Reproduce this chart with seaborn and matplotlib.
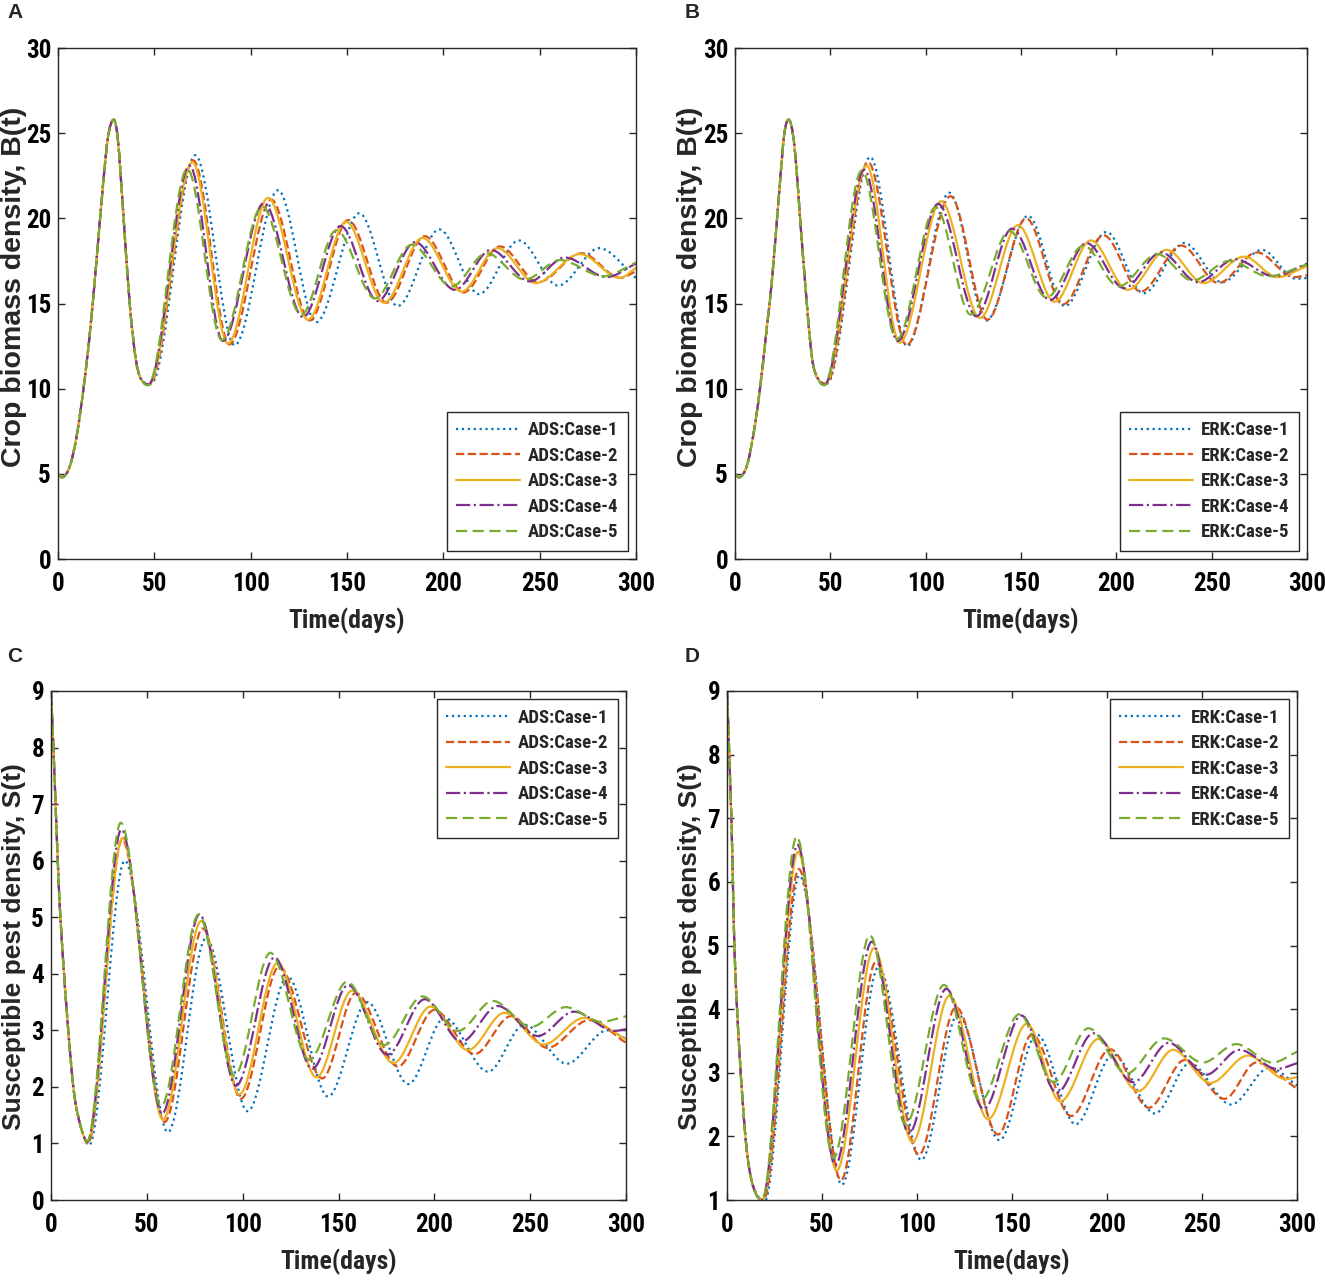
import numpy as np
import matplotlib
matplotlib.use('Agg')
import matplotlib.pyplot as plt
import seaborn as sns
from matplotlib import font_manager as fm
from matplotlib.path import Path
from matplotlib.patches import PathPatch
from matplotlib.lines import Line2D

# ---- values ----
days_ticks = [0, 50, 100, 150, 200, 250, 300]
crop_ticks = [0, 5, 10, 15, 20, 25, 30]
pest_ticks_c = [0, 1, 2, 3, 4, 5, 6, 7, 8, 9]
pest_ticks_d = [1, 2, 3, 4, 5, 6, 7, 8, 9]

case_names = ['Case-1', 'Case-2', 'Case-3', 'Case-4', 'Case-5']

# panel A (ADS) crop biomass - common start, then each case (turning points)
a_rise_t = [0, 2, 6, 9.5, 13, 16.4, 19.9, 23.4, 26, 28.9, 31.1, 33.7, 37.2, 40.7, 44.1]
a_rise_v = [5.0, 4.8, 5.4, 7.1, 9.8, 13.1, 17.4, 22.0, 24.8, 25.8, 24.6, 20.6, 15.0, 11.5, 10.4]
a1_t = [48.4, 71.3, 91.7, 114.2, 134, 156.4, 176.3, 197.9, 218.5, 239.2, 259.6, 280.9, 300]
a1_v = [10.3, 23.7, 12.55, 21.65, 13.9, 20.3, 14.85, 19.35, 15.55, 18.7, 16.05, 18.25, 16.5]
a2_t = [47.6, 70.2, 89, 110.7, 130.6, 150.6, 170.5, 190.4, 210.5, 229.4, 249.2, 271.8, 292, 300]
a2_v = [10.25, 23.4, 12.6, 21.1, 14.0, 19.9, 15.05, 18.95, 15.65, 18.35, 16.25, 17.95, 16.5, 16.9]
a3_t = [47.2, 69.7, 88.2, 109, 129.8, 149.5, 169.2, 189.2, 209.5, 228, 248, 270.9, 291.6, 300]
a3_v = [10.25, 23.3, 12.65, 21.2, 14.05, 19.8, 15.05, 18.85, 15.7, 18.25, 16.2, 17.9, 16.5, 17.1]
a4_t = [47.0, 68.3, 85.6, 106.9, 127.2, 146.7, 165.9, 185.3, 206, 224.7, 244.9, 263.1, 284.7, 300]
a4_v = [10.25, 23.1, 12.8, 20.9, 14.2, 19.55, 15.15, 18.6, 15.8, 18.15, 16.3, 17.7, 16.55, 17.35]
a5_t = [46.8, 67.1, 85.1, 105.9, 126.3, 144.5, 164.5, 183.6, 204.3, 222.4, 242.4, 260.5, 283, 300]
a5_v = [10.2, 22.9, 12.85, 20.7, 14.35, 19.3, 15.3, 18.45, 16.0, 17.95, 16.4, 17.55, 16.6, 17.4]

# panel B (ERK) crop biomass
b_rise_t = [0, 2, 6, 9.5, 13, 16.4, 19.5, 23, 25.8, 28.1, 31.2, 35.5, 40.3, 44]
b_rise_v = [5.0, 4.8, 5.4, 7.2, 9.9, 13.3, 16.5, 21.3, 24.9, 25.8, 24.2, 18.0, 11.9, 10.5]
b1_t = [48.2, 70.9, 90.3, 112.4, 131.8, 153.7, 173, 194.8, 214.3, 235.7, 255.4, 276.4, 294.2, 300]
b1_v = [10.3, 23.6, 12.5, 21.5, 14.0, 20.15, 14.85, 19.2, 15.6, 18.55, 16.25, 18.15, 16.45, 16.5]
b2_t = [48.0, 69.8, 90.0, 113, 132.4, 152.7, 172, 193.4, 212.8, 234.1, 253.5, 273.8, 293.2, 300]
b2_v = [10.3, 23.3, 12.55, 21.3, 14.05, 20.0, 14.95, 19.0, 15.7, 18.4, 16.2, 18.0, 16.55, 16.65]
b3_t = [47.2, 69, 86.4, 108.1, 128.5, 148.4, 167.6, 186.6, 206, 226.4, 245.7, 267, 284.5, 300]
b3_v = [10.25, 23.1, 12.7, 21.0, 14.15, 19.6, 15.1, 18.7, 15.8, 18.15, 16.2, 17.75, 16.55, 17.2]
b4_t = [47.0, 67.8, 85.3, 106.6, 126.6, 145.3, 165.3, 184.3, 204.1, 223.4, 242.8, 262.2, 282.6, 300]
b4_v = [10.25, 22.85, 12.8, 20.85, 14.25, 19.4, 15.2, 18.55, 15.9, 18.0, 16.25, 17.6, 16.6, 17.35]
b5_t = [46.8, 66.5, 84.9, 105.2, 123.6, 144, 163.4, 182.8, 201.2, 221.5, 239.9, 259.3, 279.7, 300]
b5_v = [10.2, 22.8, 12.9, 20.65, 14.35, 19.25, 15.35, 18.4, 16.0, 17.9, 16.35, 17.5, 16.6, 17.3]

# panel C (ADS) susceptible pest
c_fall_t = [0, 1.5, 4, 6, 9, 12, 15.5]
c_fall_v = [9.0, 7.8, 5.6, 4.4, 3.0, 1.9, 1.3]
c1_t = [19.9, 38.5, 61, 80.9, 102.6, 123.4, 144.5, 165, 186.4, 205.4, 228, 247, 269.1, 290.2, 300]
c1_v = [0.97, 6.0, 1.2, 4.63, 1.57, 3.95, 1.83, 3.5, 2.05, 3.22, 2.27, 3.1, 2.41, 3.0, 2.85]
c2_t = [19.3, 37.1, 59.3, 79.2, 99.1, 119.1, 141.5, 159, 181, 200, 221, 240, 259, 280.7, 300]
c2_v = [1.0, 6.37, 1.38, 4.8, 1.79, 4.13, 2.15, 3.66, 2.36, 3.36, 2.58, 3.25, 2.69, 3.18, 2.78]
c3_t = [19.1, 37.3, 58.4, 78.3, 98.3, 118.2, 138.5, 157, 178.6, 198, 217.5, 236.6, 257, 278.1, 300]
c3_v = [1.02, 6.4, 1.42, 4.93, 1.87, 4.19, 2.17, 3.7, 2.42, 3.42, 2.65, 3.31, 2.75, 3.22, 2.84]
c4_t = [19.0, 36.7, 58, 77.5, 96.5, 116.6, 136.3, 155, 175.5, 195, 214.1, 233.1, 253.9, 272.9, 294, 300]
c4_v = [1.03, 6.55, 1.53, 5.05, 2.02, 4.29, 2.32, 3.8, 2.57, 3.55, 2.8, 3.43, 2.9, 3.33, 2.99, 3.02]
c5_t = [18.9, 36.4, 57.5, 77.1, 95.7, 114.4, 134.7, 154.5, 173.8, 193.8, 212.4, 230.5, 250.4, 268.6, 287, 300]
c5_v = [1.04, 6.67, 1.66, 5.05, 2.2, 4.37, 2.48, 3.86, 2.74, 3.6, 2.99, 3.52, 3.06, 3.41, 3.15, 3.25]

# panel D (ERK) susceptible pest
d_fall_t = [0, 2.3, 4, 6.6, 10.1, 13.6]
d_fall_v = [9.0, 7.0, 4.9, 3.3, 1.87, 1.23]
d1_t = [19.8, 38.1, 60.5, 79.7, 102.3, 121.5, 143.4, 163.1, 183.5, 203.3, 225.2, 243.5, 265.3, 285.5, 300]
d1_v = [0.98, 6.1, 1.24, 4.66, 1.63, 3.92, 1.94, 3.6, 2.19, 3.29, 2.36, 3.15, 2.5, 3.08, 2.8]
d2_t = [19.3, 37.8, 60, 78.3, 101, 120.5, 142.7, 160.5, 181.1, 201.6, 222, 240.9, 261.9, 278.5, 300]
d2_v = [1.0, 6.2, 1.31, 4.74, 1.71, 4.03, 2.03, 3.6, 2.32, 3.37, 2.45, 3.2, 2.59, 3.16, 2.75]
d3_t = [18.6, 37.4, 57.7, 77.4, 97.6, 117.1, 137.4, 157.8, 175.4, 195.4, 216.4, 234.8, 254.5, 274.1, 294, 300]
d3_v = [1.0, 6.47, 1.46, 4.96, 1.91, 4.21, 2.27, 3.77, 2.55, 3.53, 2.71, 3.36, 2.84, 3.27, 2.9, 2.93]
d4_t = [18.5, 37.1, 57, 76.2, 95.8, 115.4, 135.1, 154.9, 173.6, 192.8, 213.8, 232.5, 252.2, 269.7, 289.5, 300]
d4_v = [1.0, 6.58, 1.55, 5.06, 2.05, 4.32, 2.43, 3.9, 2.69, 3.62, 2.85, 3.47, 2.97, 3.36, 3.06, 3.15]
d5_t = [18.4, 36.7, 56, 75.2, 94, 114.2, 133.4, 153.9, 171.8, 190.2, 210.3, 230, 250.5, 268, 287, 300]
d5_v = [1.0, 6.71, 1.66, 5.16, 2.19, 4.38, 2.56, 3.92, 2.85, 3.7, 2.99, 3.54, 3.16, 3.45, 3.16, 3.33]

# ---- styling ----
colors = sns.color_palette(['#0072BD', '#D95319', '#EDB120', '#7E2F8E', '#77AC30'])
styles = [':', '--', '-', '-.', (0, (5, 2.5))]

sns.set_style('ticks')

avail = {f.name for f in fm.fontManager.ttflist}


def pick(*names):
    for n in names:
        if n in avail:
            return n
    return 'DejaVu Sans'


narrow = pick('Liberation Sans Narrow', 'DejaVu Sans Condensed', 'Roboto Condensed', 'Liberation Sans')
wide = pick('Liberation Sans', 'Arial', 'DejaVu Sans')
plt.rcParams['font.family'] = narrow
plt.rcParams['font.weight'] = 'bold'

W, H = 1325, 1284
fig = plt.figure(figsize=(W / 100, H / 100), dpi=100)


def make_axes(left, right, top, bottom):
    return fig.add_axes([left / W, 1 - bottom / H, (right - left) / W, (bottom - top) / H])


def curve_path(t, v):
    # smooth connector through the read turning points (monotone cubic segments)
    t = np.asarray(t, float)
    v = np.asarray(v, float)
    n = len(t)
    d = np.diff(v) / np.diff(t)
    m = np.zeros(n)
    m[0], m[-1] = d[0], d[-1]
    for i in range(1, n - 1):
        if d[i - 1] * d[i] > 0:
            m[i] = (v[i + 1] - v[i - 1]) / (t[i + 1] - t[i - 1])
    for k in range(n - 1):
        if d[k] == 0:
            m[k] = m[k + 1] = 0
            continue
        a, b = m[k] / d[k], m[k + 1] / d[k]
        s = a * a + b * b
        if s > 9:
            tau = 3 / np.sqrt(s)
            m[k], m[k + 1] = tau * a * d[k], tau * b * d[k]
    verts = [(t[0], v[0])]
    codes = [Path.MOVETO]
    for k in range(n - 1):
        h = t[k + 1] - t[k]
        verts += [(t[k] + h / 3, v[k] + m[k] * h / 3),
                  (t[k + 1] - h / 3, v[k + 1] - m[k + 1] * h / 3),
                  (t[k + 1], v[k + 1])]
        codes += [Path.CURVE4] * 3
    return Path(verts, codes)


panels = [
    dict(box=(58, 636, 48, 559), start=(a_rise_t, a_rise_v),
         series=[(a1_t, a1_v), (a2_t, a2_v), (a3_t, a3_v), (a4_t, a4_v), (a5_t, a5_v)],
         method='ADS', ylim=(0, 30), yticks=crop_ticks, ylabel='Crop biomass density, B(t)',
         ysize=20.5, ylab=(27, 287), xlab_y=621, loc='lower right', letter='A', lpos=(7, 13)),
    dict(box=(735, 1307, 48, 559), start=(b_rise_t, b_rise_v),
         series=[(b1_t, b1_v), (b2_t, b2_v), (b3_t, b3_v), (b4_t, b4_v), (b5_t, b5_v)],
         method='ERK', ylim=(0, 30), yticks=crop_ticks, ylabel='Crop biomass density, B(t)',
         ysize=20.5, ylab=(703, 287), xlab_y=621, loc='lower right', letter='B', lpos=(685, 13)),
    dict(box=(51, 626, 691, 1200), start=(c_fall_t, c_fall_v),
         series=[(c1_t, c1_v), (c2_t, c2_v), (c3_t, c3_v), (c4_t, c4_v), (c5_t, c5_v)],
         method='ADS', ylim=(0, 9), yticks=pest_ticks_c, ylabel='Susceptible pest density, S(t)',
         ysize=19, ylab=(26, 947), xlab_y=1262, loc='upper right', letter='C', lpos=(7, 657)),
    dict(box=(727, 1297, 691, 1200), start=(d_fall_t, d_fall_v),
         series=[(d1_t, d1_v), (d2_t, d2_v), (d3_t, d3_v), (d4_t, d4_v), (d5_t, d5_v)],
         method='ERK', ylim=(1, 9), yticks=pest_ticks_d, ylabel='Susceptible pest density, S(t)',
         ysize=19, ylab=(702, 947), xlab_y=1262, loc='upper right', letter='D', lpos=(685, 657)),
]

for p in panels:
    left, right, top, bottom = p['box']
    ax = make_axes(left, right, top, bottom)
    st, sv = p['start']
    handles = []
    for i, (t, v) in enumerate(p['series']):
        patch = PathPatch(curve_path(st + t, sv + v), fill=False, edgecolor=colors[i],
                          linestyle=styles[i], linewidth=1.6, transform=ax.transData)
        ax.add_patch(patch)
        handles.append(Line2D([], [], color=colors[i], linestyle=styles[i], linewidth=1.6,
                              label=f"{p['method']}:{case_names[i]}"))

    ax.set_xlim(0, 300)
    ax.set_ylim(*p['ylim'])
    ax.set_xticks(days_ticks)
    ax.set_yticks(p['yticks'])
    ax.tick_params(direction='in', length=5, width=1.0, top=True, right=True,
                   labelsize=18, colors='#262626', labelcolor='black')
    ax.tick_params(axis='x', pad=9)
    ax.tick_params(axis='y', pad=5)
    for s in ax.spines.values():
        s.set_visible(True)
        s.set_color('#262626')
        s.set_linewidth(1.0)

    # axis titles placed as figure texts
    fig.text((left + right) / 2 / W, 1 - p['xlab_y'] / H, 'Time(days)', fontsize=18.5,
             fontweight='bold', family=narrow, ha='center', va='center')
    yx, yy = p['ylab']
    fig.text(yx / W, 1 - yy / H, p['ylabel'], rotation=90, fontsize=p['ysize'],
             fontweight='bold', family=wide, ha='right', va='center')

    leg = ax.legend(handles=handles, loc=p['loc'], frameon=True, fancybox=False, framealpha=1,
                    edgecolor='#262626', prop=dict(family=narrow, weight='bold', size=13.5),
                    handlelength=3.4, handletextpad=0.4, labelspacing=0.4,
                    borderpad=0.5, borderaxespad=0.45)
    leg.get_frame().set_linewidth(1.0)

    lx, ly = p['lpos']
    fig.text(lx / W, 1 - ly / H, p['letter'], fontsize=15, fontweight='bold',
             family=wide, va='center', ha='left')

fig.savefig('out.png', dpi=100)
